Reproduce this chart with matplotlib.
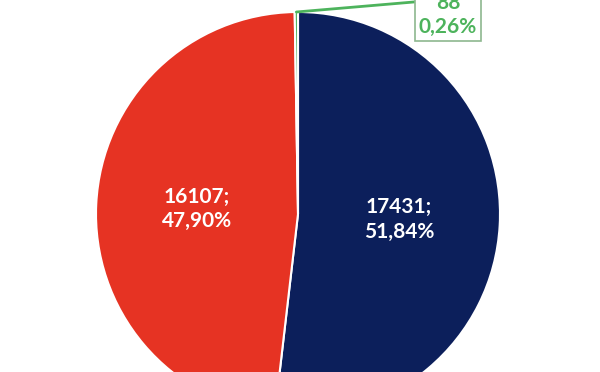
import numpy as np
import matplotlib
matplotlib.use('Agg')
import matplotlib.pyplot as plt

plt.rcParams['font.family'] = ['Lato', 'DejaVu Sans']

values = [17431, 16107, 88]
pct_labels = ['51,84%', '47,90%', '0,26%']
colors = ['#0c1f5b', '#e63323', '#4db35c']

fig = plt.figure(figsize=(6, 3.72), dpi=100)
ax = fig.add_axes([0, 0, 1, 1])

cx, cy, r = 298, 158, 202
wedges, _ = ax.pie(values, colors=colors, startangle=90, counterclock=False,
                   center=(cx, cy), radius=r, frame=True,
                   wedgeprops=dict(edgecolor='white', linewidth=1.5))
ax.set_xlim(0, 600)
ax.set_ylim(0, 372)
ax.axis('off')

# labels inside the two large slices
for w, v, p in zip(wedges[:2], values[:2], pct_labels[:2]):
    mid = np.deg2rad((w.theta1 + w.theta2) / 2)
    tx = cx + 0.5 * r * np.cos(mid)
    ty = cy + 0.5 * r * np.sin(mid)
    ax.text(tx, ty, f'{v};\n{p}', color='white', fontsize=15, fontweight='bold',
            ha='center', va='center', linespacing=1.3)

# small slice with leader line and box
w = wedges[2]
mid = np.deg2rad((w.theta1 + w.theta2) / 2)
px, py = cx + r * np.cos(mid), cy + r * np.sin(mid)
ax.annotate(f'{values[2]}\n{pct_labels[2]}', xy=(px, py), xytext=(448, 357),
            color=colors[2], fontsize=15, fontweight='bold', ha='center', va='center',
            linespacing=1.3,
            bbox=dict(boxstyle='square,pad=0.18', fc='white', ec='#8db88f', lw=1.2),
            arrowprops=dict(arrowstyle='-', color=colors[2], lw=2, relpos=(0, 0.8),
                            shrinkA=0, shrinkB=0))

fig.savefig('out.png', dpi=100)
